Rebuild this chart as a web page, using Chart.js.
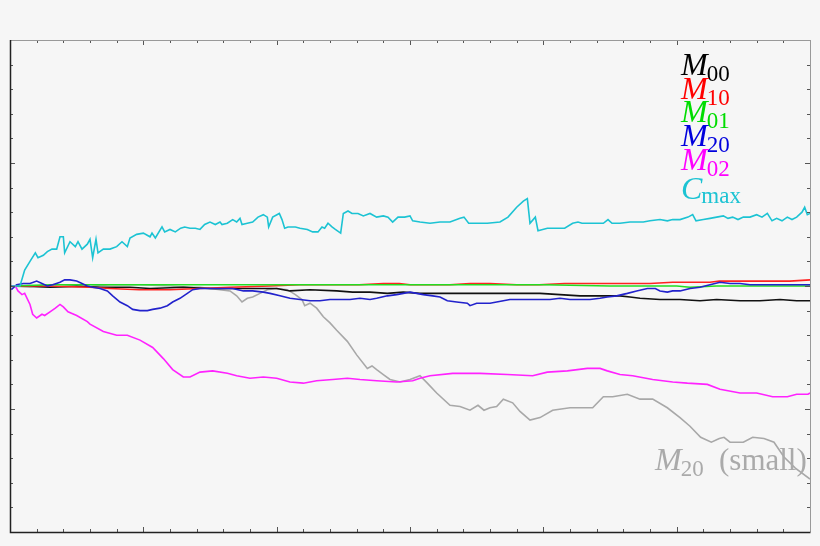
<!DOCTYPE html>
<html>
<head>
<meta charset="utf-8">
<script src="https://cdn.jsdelivr.net/npm/chart.js@4.4.0/dist/chart.umd.min.js"></script>
<style>
html,body{margin:0;padding:0;background:#f6f6f6;}
#wrap{width:820px;height:546px;}
</style>
</head>
<body>
<div id="wrap"><canvas id="grafico"></canvas></div>
<script>
// Valores: pares [x, y]
var cmax = [[1,0],[7.5,0.0],[11,0.13],[15,0.20],[19,0.27],[21,0.23],[25,0.25],[28,0.28],[31.5,0.30],[35,0.30],[37.5,0.40],[40,0.40],[41,0.27],[45,0.36],[49,0.32],[51,0.36],[54,0.30],[58,0.34],[60,0.38],[62,0.23],[64.5,0.38],[66,0.27],[70,0.30],[75,0.30],[80,0.32],[84,0.36],[88,0.32],[90,0.39],[95,0.42],[100,0.43],[105,0.40],[106.5,0.43],[109,0.39],[114,0.48],[116,0.44],[120,0.46],[124,0.44],[128,0.47],[131,0.48],[135,0.47],[139,0.47],[142.5,0.46],[146,0.50],[150,0.52],[154,0.50],[157.5,0.52],[159,0.50],[163,0.51],[167,0.54],[170,0.52],[172.5,0.55],[174,0.50],[178,0.51],[182,0.52],[186,0.56],[190,0.58],[193,0.56],[194,0.48],[197,0.56],[202,0.59],[204,0.54],[206,0.47],[208.5,0.48],[214,0.48],[217.5,0.47],[223,0.46],[227,0.44],[231,0.44],[234,0.48],[236,0.47],[238.5,0.51],[241.5,0.48],[244,0.46],[248,0.43],[250,0.59],[253.5,0.61],[256.5,0.59],[261,0.59],[265,0.57],[270,0.59],[275,0.56],[280,0.57],[283.5,0.56],[287,0.52],[291,0.56],[296,0.56],[300,0.57],[302,0.53],[307.5,0.52],[315,0.51],[322.5,0.52],[330,0.52],[337.5,0.55],[340.5,0.56],[344,0.51],[350,0.51],[358,0.51],[367.5,0.52],[373.5,0.56],[380,0.64],[385,0.69],[388,0.71],[390,0.51],[394,0.56],[396,0.45],[403,0.47],[410,0.47],[416,0.47],[422,0.51],[426,0.52],[429,0.51],[436.5,0.51],[445,0.51],[448.5,0.54],[451.5,0.51],[457.5,0.51],[465,0.52],[470,0.52],[475,0.52],[480,0.53],[487.5,0.54],[493,0.53],[497,0.54],[502.5,0.54],[508.5,0.56],[512,0.58],[514.5,0.53],[520,0.54],[525,0.55],[530,0.56],[535,0.57],[538.5,0.55],[542,0.56],[546,0.54],[550,0.56],[555,0.56],[560,0.58],[564,0.56],[568,0.59],[571.5,0.53],[575,0.55],[579,0.53],[583,0.56],[586.5,0.54],[590,0.56],[594,0.60],[596,0.64],[598,0.58],[600,0.59]];

var m00 = [[1,0],[15,0.00],[30,-0.01],[50,0.00],[67.5,-0.01],[90,-0.01],[105,-0.02],[130,-0.01],[150,-0.02],[175,-0.02],[200,-0.02],[210,-0.04],[225,-0.03],[245,-0.04],[257,-0.05],[270,-0.05],[283,-0.06],[295,-0.05],[307.5,-0.06],[320,-0.06],[345,-0.06],[370,-0.06],[397.5,-0.06],[412.5,-0.07],[427.5,-0.08],[457.5,-0.08],[465,-0.09],[472.5,-0.10],[487.5,-0.11],[502.5,-0.11],[517.5,-0.12],[530,-0.11],[547.5,-0.12],[562.5,-0.12],[577.5,-0.11],[590,-0.12],[600,-0.12]];

var m10 = [[1,0],[30,0.00],[60,-0.01],[75,-0.02],[97,-0.03],[120,-0.03],[142,-0.02],[165,-0.01],[195,0.00],[217,0.01],[240,0.01],[262,0.01],[280,0.02],[292,0.02],[300,0.01],[330,0.01],[345,0.02],[360,0.02],[380,0.01],[397,0.01],[416,0.02],[435,0.02],[448,0.02],[462,0.02],[480,0.02],[497,0.03],[525,0.03],[532,0.04],[555,0.04],[572,0.04],[585,0.04],[600,0.05]];

var m01 = [[1,0],[30,0.01],[60,0.01],[100,0.01],[150,0.01],[200,0.01],[250,0.01],[300,0.01],[350,0.01],[400,0.01],[450,0.00],[500,0.00],[510,-0.01],[530,0.00],[600,0.00]];

var m20 = [[1,-0.03],[5,0.01],[10,0.02],[15,0.02],[20,0.04],[24,0.02],[28,0.00],[32,0.01],[37.5,0.03],[41,0.05],[45,0.05],[50,0.04],[54,0.02],[58,0.00],[62,-0.01],[67.5,-0.02],[73,-0.04],[77,-0.08],[82.5,-0.13],[88,-0.16],[92,-0.19],[97.5,-0.20],[103,-0.20],[107,-0.19],[112.5,-0.18],[118,-0.16],[122,-0.13],[127.5,-0.10],[133,-0.06],[137,-0.03],[142.5,-0.02],[152,-0.02],[163,-0.02],[167,-0.02],[175,-0.04],[182,-0.04],[190,-0.05],[195,-0.06],[202.5,-0.08],[210,-0.10],[217.5,-0.11],[225,-0.12],[232.5,-0.12],[240,-0.11],[247.5,-0.11],[255,-0.11],[262.5,-0.10],[270,-0.11],[275,-0.10],[283,-0.08],[290,-0.07],[295,-0.06],[300,-0.05],[305,-0.06],[310,-0.07],[317,-0.08],[322.5,-0.09],[328,-0.12],[335,-0.13],[343,-0.14],[345,-0.16],[350,-0.14],[355,-0.14],[360,-0.14],[365,-0.13],[370,-0.12],[375,-0.11],[382.5,-0.11],[390,-0.11],[397.5,-0.11],[405,-0.11],[412.5,-0.10],[420,-0.11],[427.5,-0.11],[435,-0.11],[442.5,-0.10],[448,-0.09],[455,-0.08],[463,-0.06],[470,-0.04],[478,-0.02],[484,-0.02],[487.5,-0.04],[493,-0.05],[497,-0.04],[502.5,-0.04],[510,-0.02],[517.5,-0.01],[525,0.01],[532.5,0.03],[540,0.02],[547.5,0.02],[555,0.01],[572,0.01],[600,0.01]];

var m02 = [[1,0],[4,0.00],[6,-0.04],[9,-0.07],[11,-0.06],[15,-0.15],[17,-0.23],[20,-0.26],[24,-0.23],[26,-0.24],[30,-0.21],[34,-0.18],[37.5,-0.15],[40,-0.17],[43.5,-0.21],[50,-0.24],[58,-0.29],[60,-0.31],[70,-0.37],[80,-0.40],[88,-0.40],[97.5,-0.44],[107,-0.50],[115,-0.59],[122,-0.68],[130,-0.74],[135,-0.74],[142.5,-0.70],[152,-0.69],[163,-0.71],[170,-0.73],[180,-0.75],[190,-0.74],[200,-0.75],[210,-0.78],[220,-0.79],[230,-0.77],[242,-0.76],[253,-0.75],[262.5,-0.76],[275,-0.77],[290,-0.78],[302,-0.77],[307.5,-0.75],[315,-0.73],[332,-0.71],[352.5,-0.71],[373,-0.72],[392,-0.73],[403,-0.70],[418,-0.69],[433,-0.67],[442.5,-0.67],[448,-0.69],[457.5,-0.72],[467,-0.73],[482,-0.76],[497,-0.78],[508,-0.79],[523,-0.80],[532.5,-0.84],[547.5,-0.87],[560,-0.87],[572,-0.90],[583,-0.90],[590,-0.88],[598.5,-0.88],[600,-0.87]];

var m20small = [[1,0],[15,-0.01],[30,-0.01],[52.5,-0.01],[75,0.01],[97.5,0.01],[120,0.00],[135,-0.01],[142.5,-0.01],[150,-0.02],[157.5,-0.03],[165,-0.04],[170,-0.08],[174,-0.13],[178,-0.10],[182,-0.09],[187.5,-0.06],[193,-0.03],[200,-0.02],[208,-0.03],[214,-0.07],[219,-0.11],[221,-0.16],[225,-0.14],[230,-0.18],[235,-0.25],[240,-0.30],[245,-0.36],[253,-0.45],[260,-0.56],[268,-0.67],[271.5,-0.65],[275,-0.68],[280,-0.72],[285,-0.76],[292.5,-0.78],[300,-0.76],[307.5,-0.73],[313,-0.79],[320,-0.87],[330,-0.97],[337.5,-0.98],[345,-1.01],[351,-0.97],[355.5,-1.01],[360,-0.99],[365,-0.98],[370,-0.92],[377,-0.95],[382.5,-1.02],[390,-1.09],[397.5,-1.07],[407,-1.01],[420,-0.99],[437,-0.99],[445,-0.90],[452,-0.90],[463,-0.88],[472.5,-0.92],[482,-0.92],[493,-0.99],[502.5,-1.07],[510,-1.14],[518,-1.23],[526,-1.27],[532,-1.24],[535.5,-1.23],[540,-1.27],[550,-1.27],[557,-1.23],[565.5,-1.24],[573,-1.27],[580.5,-1.39],[589,-1.48],[600,-1.57]];

// Rotulos de la leyenda
var nombres = ['M', 'M', 'M', 'M', 'M', 'C'];
var subindices = ['00', '10', '01', '20', '02', 'max'];
var colores = ['#000000', '#ff0000', '#00dd00', '#0000dd', '#ff00ff', '#1cc3d3'];

function puntos(arr){
    return arr.map(function(p){ return {x: p[0], y: p[1]}; });
}

function serie(datos, color){
    return {data: puntos(datos), borderColor: color, borderWidth: 1.6, pointRadius: 0, fill: false, tension: 0};
}

// marco con marcas hacia dentro en los cuatro lados
var marco = {
    id: 'marco',
    afterDatasetsDraw: function(chart){
        var ctx = chart.ctx, a = chart.chartArea;
        var sx = chart.scales.x, sy = chart.scales.y;
        ctx.save();
        ctx.lineWidth = 1;
        ctx.strokeStyle = '#555';
        for (var v = 0; v <= 600; v += 20){
            var px = Math.round(sx.getPixelForValue(v)) + 0.5;
            var len = (v % 100 === 0) ? 5 : 3;
            ctx.beginPath();
            ctx.moveTo(px, a.bottom); ctx.lineTo(px, a.bottom - len);
            ctx.moveTo(px, a.top); ctx.lineTo(px, a.top + len);
            ctx.stroke();
        }
        for (var i = -10; i <= 10; i++){
            var py = Math.round(sy.getPixelForValue(i / 5)) + 0.5;
            var l2 = (i % 5 === 0) ? 5 : 3;
            ctx.beginPath();
            ctx.moveTo(a.left, py); ctx.lineTo(a.left + l2, py);
            ctx.moveTo(a.right, py); ctx.lineTo(a.right - l2, py);
            ctx.stroke();
        }
        // bordes
        ctx.strokeStyle = '#999';
        ctx.beginPath();
        ctx.moveTo(a.left, a.top + 0.5); ctx.lineTo(a.right + 0.5, a.top + 0.5);
        ctx.moveTo(a.right + 0.5, a.top); ctx.lineTo(a.right + 0.5, a.bottom);
        ctx.stroke();
        ctx.strokeStyle = '#222';
        ctx.lineWidth = 1.5;
        ctx.beginPath();
        ctx.moveTo(a.left + 0.5, a.top); ctx.lineTo(a.left + 0.5, a.bottom + 0.5);
        ctx.lineTo(a.right + 0.5, a.bottom + 0.5);
        ctx.stroke();
        ctx.restore();
    }
};

// leyenda con subindices y etiqueta de la curva gris
var leyenda = {
    id: 'leyenda',
    afterDraw: function(chart){
        var ctx = chart.ctx;
        var bases = [75, 98.5, 122, 145.5, 170, 199];
        ctx.save();
        ctx.textBaseline = 'alphabetic';
        for (var i = 0; i < nombres.length; i++){
            ctx.fillStyle = colores[i];
            ctx.font = 'italic 32px "Liberation Serif"';
            ctx.fillText(nombres[i], 681, bases[i]);
            var w = ctx.measureText(nombres[i]).width;
            ctx.font = '23px "Liberation Serif"';
            ctx.fillText(subindices[i], 681 + w - 1, bases[i] + (i === 5 ? 4 : 6));
        }
        ctx.fillStyle = '#aaaaaa';
        ctx.font = 'italic 32px "Liberation Serif"';
        ctx.fillText('M', 655, 470);
        var wm = ctx.measureText('M').width;
        ctx.font = '23px "Liberation Serif"';
        ctx.fillText('20', 655 + wm - 1, 476);
        ctx.font = '31px "Liberation Serif"';
        ctx.fillText('(small)', 719, 470);
        ctx.restore();
    }
};

var grafico = new Chart(document.getElementById('grafico'), {
    type: 'line',
    data: {
        datasets: [
            serie(cmax, '#1cc3d3'),
            serie(m02, '#ff22ff'),
            serie(m20, '#2222cc'),
            serie(m01, '#22dd22'),
            serie(m10, '#ff2222'),
            serie(m00, '#111111'),
            serie(m20small, '#a8a8a8')
        ]
    },
    options: {
        responsive: true,
        maintainAspectRatio: false,
        animation: false,
        layout: {padding: {left: 10, right: 10, top: 40, bottom: 14}},
        plugins: {legend: {display: false}, tooltip: {enabled: false}},
        scales: {
            x: {type: 'linear', display: false, min: 0, max: 600},
            y: {type: 'linear', display: false, min: -2, max: 2}
        }
    },
    plugins: [marco, leyenda]
});
</script>
</body>
</html>
